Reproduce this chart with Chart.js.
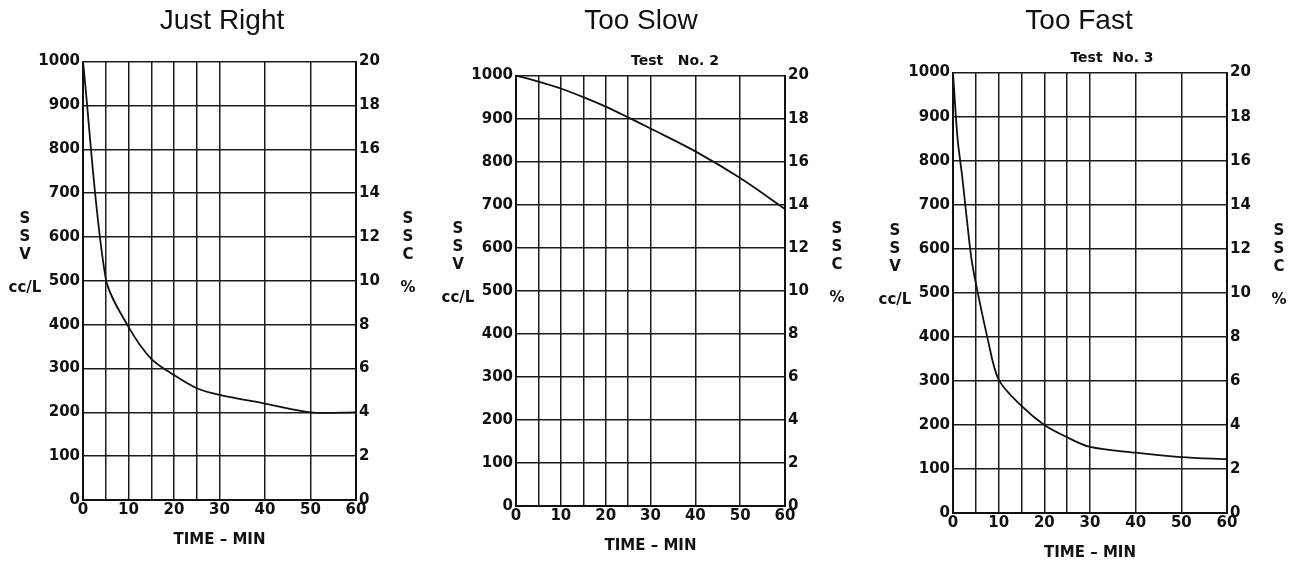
<!DOCTYPE html>
<html>
<head>
<meta charset="utf-8">
<script src="https://cdn.jsdelivr.net/npm/chart.js@4.4.1/dist/chart.umd.min.js"></script>
<style>
body{margin:0;background:#fff;width:1301px;height:562px;overflow:hidden;position:relative;}
canvas{position:absolute;top:0;}
</style>
</head>
<body>
<canvas id="c1" width="444" height="562" style="left:0px"></canvas>
<canvas id="c2" width="442" height="562" style="left:420px"></canvas>
<canvas id="c3" width="438" height="562" style="left:860px"></canvas>
<script>
// grid / tick positions
const timeGrid = [0,5,10,15,20,25,30,40,50,60];
const leftLabels = ["S","S","V","cc/L"];
const rightLabels = ["S","S","C","%"];

const titles = ["Just Right","Too Slow","Too Fast"];
const testLabels = ["", "Test   No. 2", "Test  No. 3"];

const rightTime = [0,5,10,15,20,25,30,40,50,60];
const rightSsv = [1000,505,395,322,285,255,240,220,200,200];

const slowTime = [0,5,10,15,20,25,30,40,50,60];
const slowSsv = [1000,986,970,950,928,903,877,824,762,690];

const fastTime = [0,1,2,3,4,5,7.5,10,15,20,25,30,40,50,60];
const fastSsv = [1000,850,765,670,580,522,400,303,243,200,172,150,137,127,122];

const ink = "#111";
const gridInk = "#1c1c1c";
const bold = {family:"DejaVu Sans",weight:"bold",size:15};

const sideText = {
id:"sideText",
afterDraw(chart,args,opts){
const {ctx,chartArea:a} = chart;
const mid = (a.top+a.bottom)/2;
const rows = [-62,-44,-26,7];
ctx.save();
ctx.fillStyle = ink;
ctx.textAlign = "center";
ctx.textBaseline = "middle";
ctx.font = 'bold 15px "DejaVu Sans"';
leftLabels.forEach((t,i)=>ctx.fillText(t,a.left-58,mid+rows[i]));
rightLabels.forEach((t,i)=>ctx.fillText(t,a.right+52,mid+rows[i]));
if(opts.text){
ctx.font = 'bold 14px "DejaVu Sans"';
ctx.fillText(opts.text,a.left+159,a.top-14);
}
ctx.restore();
}
};

function makeChart(id,title,test,times,values,box){

return new Chart(document.getElementById(id),{
type:"line",
data:{
datasets:[{
data:times.map((t,i)=>({x:t,y:values[i]})),
borderColor:ink,
borderWidth:1.8,
pointRadius:0,
fill:false,
tension:0.3
}]
},
options:{
responsive:false,
animation:false,
layout:{padding:{bottom:box.bottom}},
plugins:{
legend:{display:false},
tooltip:{enabled:false},
title:{
display:true,
text:title,
color:ink,
font:{family:"Liberation Sans",size:28,weight:"normal"},
padding:{top:4,bottom:box.titleGap}
},
sideText:{text:test}
},
scales:{
x:{
type:"linear",
min:0,
max:60,
afterBuildTicks:s=>{ s.ticks = timeGrid.map(v=>({value:v})); },
afterFit:s=>{ s.height = 48; },
grid:{color:gridInk,lineWidth:1.5,drawTicks:false},
border:{color:ink,width:2},
ticks:{
color:ink,
font:bold,
padding:1,
maxRotation:0,
autoSkip:false,
callback:v=> v%10===0 ? String(v) : ""
},
title:{
display:true,
text:"TIME – MIN",
color:ink,
font:{family:"DejaVu Sans",weight:"bold",size:15,lineHeight:1},
padding:{top:0,bottom:0}
}
},
y:{
position:"left",
min:0,
max:1000,
afterFit:s=>{ s.width = box.left; },
grid:{color:gridInk,lineWidth:1.5,drawTicks:false},
border:{color:ink,width:2},
ticks:{stepSize:100,color:ink,font:bold,padding:3,callback:v=>String(v)}
},
y2:{
position:"right",
min:0,
max:20,
afterFit:s=>{ s.width = box.right; },
grid:{drawOnChartArea:false,drawTicks:false},
border:{color:ink,width:2},
ticks:{stepSize:2,color:ink,font:bold,padding:3,callback:v=>String(v)}
}
}
},
plugins:[sideText]
});

}

makeChart("c1",titles[0],testLabels[0],rightTime,rightSsv,{left:83,right:88,titleGap:24,bottom:14});
makeChart("c2",titles[1],testLabels[1],slowTime,slowSsv,{left:96,right:77,titleGap:38,bottom:8});
makeChart("c3",titles[2],testLabels[2],fastTime,fastSsv,{left:93,right:71,titleGap:35,bottom:1});
</script>
</body>
</html>
